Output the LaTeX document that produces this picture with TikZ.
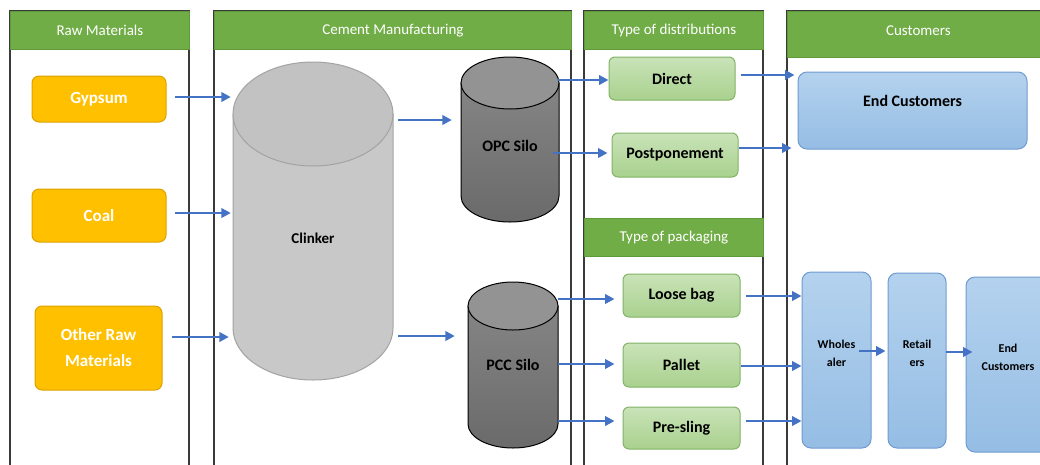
\documentclass[tikz,border=0pt]{standalone}
\usepackage{fontspec}
\setmainfont{Carlito}
\usetikzlibrary{arrows.meta}
\definecolor{hdr}{HTML}{70AD47}
\definecolor{hdrb}{HTML}{5E9A3A}
\definecolor{org}{HTML}{FFC000}
\definecolor{orgb}{HTML}{DDA200}
\definecolor{grn}{HTML}{A9D18E}
\definecolor{grnt}{HTML}{C9E3B8}
\definecolor{grnb}{HTML}{82B366}
\definecolor{blu}{HTML}{95BDE4}
\definecolor{blut}{HTML}{B4D2EE}
\definecolor{blub}{HTML}{6F9BD0}
\definecolor{arrc}{HTML}{4472C4}
\definecolor{colb}{HTML}{3A3A3A}
\definecolor{clk}{HTML}{C8C8C8}
\definecolor{clkb}{HTML}{A3A3A3}
\definecolor{silo}{HTML}{858585}
\definecolor{silod}{HTML}{6A6A6A}
\definecolor{silot}{HTML}{939393}
\begin{document}
\begin{tikzpicture}[x=1pt,y=-1pt,
  hdrbox/.style={draw=hdrb, fill=hdr, line width=0.8pt, inner sep=0pt, anchor=north west,
    text=white, font=\fontsize{15}{18}\selectfont},
  colbox/.style={draw=colb, line width=1.2pt},
  rawbox/.style={draw=orgb, fill=org, rounded corners=7pt, line width=1pt, inner sep=0pt,
    text=white, font=\fontsize{17}{26}\selectfont\bfseries, align=center},
  grnbox/.style={draw=grnb, top color=grnt, bottom color=grn, rounded corners=6pt, line width=1pt,
    inner sep=0pt, minimum width=117pt, minimum height=43pt, font=\fontsize{16}{19}\selectfont\bfseries},
  blubox/.style={draw=blub, top color=blut, bottom color=blu, rounded corners=9pt, line width=1pt,
    inner sep=0pt, align=center},
  small/.style={font=\fontsize{12}{18}\selectfont\bfseries},
  ghost/.style={draw=none, inner sep=0pt},
  lbl/.style={font=\fontsize{16}{19}\selectfont\bfseries, inner sep=0pt},
  arr/.style={draw=arrc, line width=2.5pt, -{Triangle[length=9.5pt,width=9.5pt]}}
]
\useasboundingbox (0,0) rectangle (1040,464);
\clip (0,0) rectangle (1040,464);
\fill[white] (0,0) rectangle (1040,464);

% columns
\draw[colbox] (10,11) rectangle (189,520);
\draw[colbox] (214,11) rectangle (571,520);
\draw[colbox] (584,11) rectangle (763,520);
\draw[colbox] (787,11) rectangle (1049,520);
\node[hdrbox, minimum width=179pt, minimum height=38pt] (hraw) at (10,11) {Raw Materials};
\node[hdrbox, minimum width=357pt, minimum height=38pt] (hcem) at (214,11) {Cement Manufacturing};
\node[hdrbox, minimum width=179pt, minimum height=38pt] (hdist) at (584,11) {Type of distributions};
\node[hdrbox, minimum width=179pt, minimum height=38pt] (hpack) at (584,218) {Type of packaging};
\node[hdrbox, minimum width=262pt, minimum height=46pt, text depth=8pt] (hcust) at (787,11) {Customers};

% raw materials
\node[rawbox, minimum width=134pt, minimum height=46pt] (gypsum) at (99,99) {Gypsum};
\node[rawbox, minimum width=134pt, minimum height=53pt] (coal) at (99,215.5) {Coal};
\node[rawbox, minimum width=127pt, minimum height=84pt] (other) at (98.5,348) {Other Raw\\Materials};

% clinker cylinder
\filldraw[fill=clk, draw=clkb, line width=1pt]
  (233,114) -- (233,328) arc[start angle=180, end angle=360, x radius=80pt, y radius=52pt] -- (393,114) -- cycle;
\filldraw[fill=clk!97!black, draw=clkb, line width=1pt] (313,114) ellipse [x radius=80pt, y radius=52pt];
\node[ghost, minimum width=160pt, minimum height=318pt] (clinker) at (313,221) {};
\node[lbl, font=\fontsize{15}{18}\selectfont\bfseries] (clinkerlbl) at (313,238) {Clinker};

% OPC silo
\shade[top color=silo, bottom color=silod, draw=black, line width=1pt]
  (461,83) -- (461,196) arc[start angle=180, end angle=360, x radius=49pt, y radius=26pt] -- (559,83) -- cycle;
\filldraw[fill=silot, draw=black, line width=1pt] (510,83) ellipse [x radius=49pt, y radius=26pt];
\node[ghost, minimum width=98pt, minimum height=165pt] (opc) at (510,139.5) {};
\node[lbl] (opclbl) at (510,146) {OPC Silo};

% PCC silo
\shade[top color=silo, bottom color=silod, draw=black, line width=1pt]
  (468,306) -- (468,424) arc[start angle=180, end angle=360, x radius=45pt, y radius=24pt] -- (558,306) -- cycle;
\filldraw[fill=silot, draw=black, line width=1pt] (513,306) ellipse [x radius=45pt, y radius=24pt];
\node[ghost, minimum width=90pt, minimum height=166pt] (pcc) at (513,365) {};
\node[lbl] (pcclbl) at (513,365) {PCC Silo};

% distribution and packaging
\node[grnbox, minimum width=126pt] (direct) at (672,78.5) {Direct};
\node[grnbox, minimum width=126pt, minimum height=44pt] (postp) at (675,155) {Postponement};
\node[grnbox] (loose) at (681.5,295.5) {Loose bag};
\node[grnbox, minimum height=44pt] (pallet) at (681.5,365) {Pallet};
\node[grnbox, minimum height=42pt] (presling) at (681.5,428) {Pre-sling};

% customers
\node[blubox, minimum width=229pt, minimum height=77pt, font=\fontsize{16}{19}\selectfont\bfseries,
  text depth=19pt] (endc) at (912.5,110.5) {End Customers};
\node[blubox, small, minimum width=69pt, minimum height=176pt, text depth=14pt] (wholes) at (836.5,360) {Wholes\\aler};
\node[blubox, small, minimum width=58pt, minimum height=175pt, text depth=14pt] (retail) at (917,360.5) {Retail\\ers};
\node[blubox, small, minimum width=84pt, minimum height=175pt, text depth=14pt] (endc2) at (1008,364.5) {End\\Customers};

% arrows
\draw[arr, shorten <=8pt, shorten >=2pt] (gypsum.east |- 0,97) -- (clinker.west |- 0,97);
\draw[arr, shorten <=8pt, shorten >=2pt] (coal.east |- 0,213) -- (clinker.west |- 0,213);
\draw[arr, shorten <=9pt, shorten >=4pt] (other.east |- 0,337) -- (clinker.west |- 0,337);
\draw[arr, shorten <=5pt, shorten >=9pt] (clinker.east |- 0,120) -- (opc.west |- 0,120);
\draw[arr, shorten <=5pt, shorten >=13pt] (clinker.east |- 0,336) -- (pcc.west |- 0,336);
\draw[arr, shorten <=-1pt, shorten >=0pt] (opc.east |- 0,80) -- (direct.west |- 0,80);
\draw[arr, shorten <=-6pt, shorten >=4pt] (opc.east |- 0,153) -- (postp.west |- 0,153);
\draw[arr, shorten <=0pt, shorten >=8pt] (pcc.east |- 0,299) -- (loose.west |- 0,299);
\draw[arr, shorten <=0pt, shorten >=8pt] (pcc.east |- 0,364) -- (pallet.west |- 0,364);
\draw[arr, shorten <=0pt, shorten >=8pt] (pcc.east |- 0,421) -- (presling.west |- 0,421);
\draw[arr, shorten <=5pt, shorten >=3pt] (direct.east |- 0,75) -- (endc.west |- 0,75);
\draw[arr, shorten <=0pt, shorten >=6pt] (postp.east |- 0,148) -- (endc.west |- 0,148);
\draw[arr, shorten <=5pt, shorten >=0pt] (loose.east |- 0,296) -- (wholes.west |- 0,296);
\draw[arr, shorten <=0pt, shorten >=0pt] (pallet.east |- 0,366) -- (wholes.west |- 0,366);
\draw[arr, shorten <=5pt, shorten >=0pt] (presling.east |- 0,421) -- (wholes.west |- 0,421);
\draw[arr, shorten <=-13pt, shorten >=2pt] (wholes.east |- 0,351) -- (retail.west |- 0,351);
\draw[arr, shorten <=-1pt, shorten >=-7pt] (retail.east |- 0,352) -- (endc2.west |- 0,352);
\end{tikzpicture}
\end{document}
